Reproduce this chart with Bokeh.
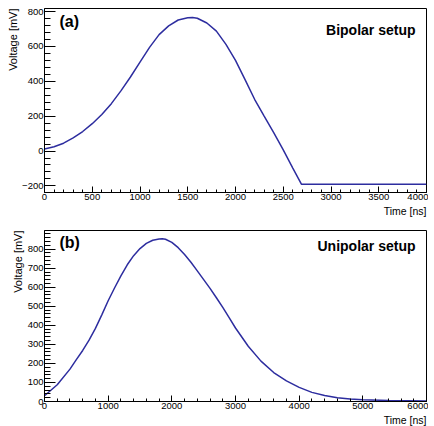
from bokeh.plotting import figure
from bokeh.layouts import column
from bokeh.models import Range1d, SingleIntervalTicker, Label, Title
from bokeh.embed import file_html
from bokeh.resources import INLINE

# (a) Bipolar setup
time_a = [0, 100, 200, 300, 400, 500, 600, 700, 800, 900, 1000, 1100, 1200, 1300,
          1400, 1500, 1550, 1600, 1700, 1800, 1900, 2000, 2100, 2200, 2300, 2400,
          2500, 2600, 2690, 2800, 3000, 3500, 4000]
volt_a = [12, 25, 45, 75, 112, 157, 210, 272, 345, 425, 510, 595, 668, 718,
          752, 765, 766, 762, 735, 688, 612, 520, 410, 297, 201, 106,
          7, -98, -190, -190, -190, -190, -190]

# (b) Unipolar setup
time_b = [0, 200, 400, 500, 600, 700, 800, 900, 1000, 1100, 1200, 1300, 1400, 1500,
          1600, 1700, 1800, 1850, 1900, 2000, 2100, 2200, 2300, 2400, 2500, 2600,
          2700, 2800, 2900, 3000, 3200, 3400, 3600, 3800, 4000, 4200, 4400, 4600,
          4800, 5000, 5400, 6000]
volt_b = [30, 88, 170, 220, 268, 322, 384, 455, 529, 596, 660, 718, 766, 803,
          830, 847, 853, 855, 852, 836, 808, 772, 731, 686, 640, 594,
          545, 494, 440, 386, 290, 212, 152, 108, 74, 48, 31, 20,
          13, 9, 5, 3]

FONT = "Liberation Sans"
LINE = "#2d2d9f"


def panel(t, v, xr, yr, xint, yint, h, btop, bbot, tag, setup, tag_dy, setup_dy):
    p = figure(width=428, height=h, x_range=Range1d(*xr), y_range=Range1d(*yr),
               output_backend="svg", toolbar_location=None,
               min_border_left=44, min_border_right=2,
               min_border_top=btop, min_border_bottom=bbot)
    p.grid.visible = False
    p.background_fill_color = "white"
    p.border_fill_color = "white"
    p.outline_line_color = "black"
    p.outline_line_width = 1
    p.outline_line_alpha = 1

    p.line(t, v, line_color=LINE, line_width=1.5)

    p.xaxis.ticker = SingleIntervalTicker(interval=xint, num_minor_ticks=5)
    p.yaxis.ticker = SingleIntervalTicker(interval=yint, num_minor_ticks=5)
    for ax, mj, mn in ((p.xaxis[0], 6, 3), (p.yaxis[0], 11, 6)):
        ax.major_tick_in = mj
        ax.major_tick_out = 0
        ax.minor_tick_in = mn
        ax.minor_tick_out = 0
        ax.axis_line_color = "black"
        ax.major_tick_line_color = "black"
        ax.minor_tick_line_color = "black"
        ax.major_label_text_font = FONT
        ax.major_label_text_font_size = "9.5px"
        ax.major_label_text_color = "black"
        ax.major_label_standoff = 1

    p.add_layout(Title(text="Time [ns]", align="right", text_font=FONT,
                       text_font_size="10.5px", text_font_style="normal",
                       text_color="black", standoff=1, offset=0), "below")
    p.add_layout(Title(text="Voltage [mV]", align="right", text_font=FONT,
                       text_font_size="11px", text_font_style="normal",
                       text_color="black", standoff=1, offset=0), "left")
    p.add_layout(Label(x=xr[0], y=yr[1], text=tag, text_baseline="top",
                       x_offset=15, y_offset=tag_dy, text_font=FONT,
                       text_font_size="16px", text_font_style="bold",
                       text_color="black"))
    p.add_layout(Label(x=xr[1], y=yr[1], text=setup, text_align="right",
                       text_baseline="top", x_offset=-11, y_offset=setup_dy,
                       text_font=FONT, text_font_size="14px",
                       text_font_style="bold", text_color="black"))
    return p


p1 = panel(time_a, volt_a, (0, 4000), (-238, 818), 500, 200, 218, 8, 26,
           "(a)", "Bipolar setup", -4, -13)
p2 = panel(time_b, volt_b, (0, 6000), (0, 898), 1000, 100, 208, 12, 25,
           "(b)", "Unipolar setup", -3, -7)

layout = column(p1, p2, spacing=0)
open("out.html", "w").write(file_html(layout, INLINE))
